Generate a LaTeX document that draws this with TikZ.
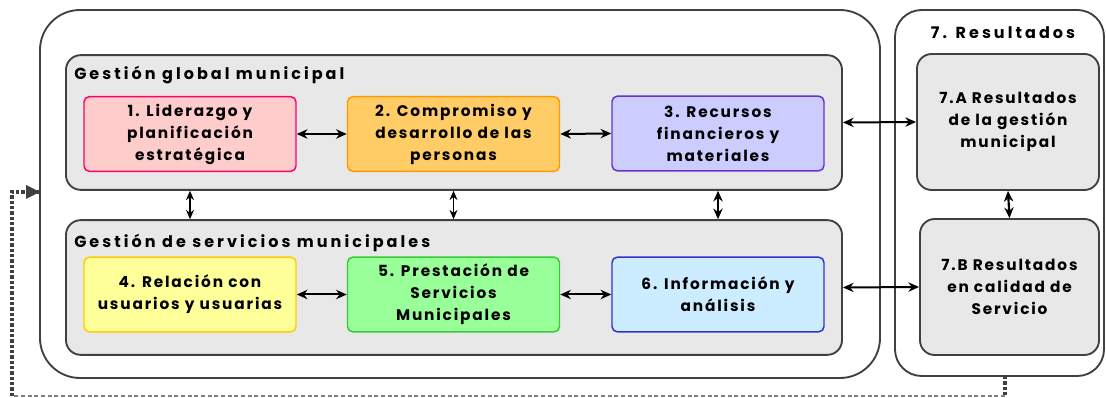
\documentclass[tikz,border=0pt]{standalone}
\usepackage{fontspec}
\setmainfont{Poppins}[LetterSpace=12]
\newfontfamily\hdrfont{Poppins}[LetterSpace=19]
\usetikzlibrary{arrows.meta}
\definecolor{pinkF}{HTML}{FFCCCC}\definecolor{pinkD}{HTML}{FF0066}
\definecolor{oraF}{HTML}{FFCC66}\definecolor{oraD}{HTML}{FF9900}
\definecolor{lavF}{HTML}{CCCCFF}\definecolor{lavD}{HTML}{6633CC}
\definecolor{yelF}{HTML}{FFFF99}\definecolor{yelD}{HTML}{FFCC00}
\definecolor{grnF}{HTML}{99FF99}\definecolor{grnD}{HTML}{33CC33}
\definecolor{bluF}{HTML}{CCECFF}\definecolor{bluD}{HTML}{3333CC}
\definecolor{grayF}{HTML}{E8E8E8}\definecolor{frameD}{HTML}{404040}
\begin{document}
\begin{tikzpicture}[x=0.75pt,y=-0.75pt,
  frame/.style={draw=frameD, line width=1.4pt, inner sep=0pt},
  gbox/.style={draw=frameD, fill=grayF, line width=1.4pt, rounded corners=11pt, minimum width=582pt, minimum height=101pt, inner sep=0pt},
  cbox/.style={line width=1.1pt, rounded corners=4pt, align=center, font=\bfseries\fontsize{11.5}{16.5}\selectfont, minimum width=159pt, minimum height=56pt, inner sep=0pt},
  rbox/.style={draw=frameD, fill=grayF, line width=1.4pt, rounded corners=11pt, align=center, font=\bfseries\fontsize{11.5}{16.5}\selectfont, inner sep=0pt},
  lbl/.style={font=\hdrfont\bfseries\fontsize{12}{14}\selectfont, inner sep=0pt},
  harr/.style={line width=1.5pt, {Stealth[length=8pt,width=7pt]}-{Stealth[length=8pt,width=7pt]}},
  varr/.style={line width=0.9pt, {Stealth[length=7pt,width=6pt]}-{Stealth[length=7pt,width=6pt]}},
  varrb/.style={line width=1.6pt, {Stealth[length=8pt,width=7pt]}-{Stealth[length=8pt,width=7pt]}},
  fbthick/.style={draw=frameD, line width=2.4pt, dash pattern=on 2.5pt off 1.5pt},
  fbthin/.style={draw=gray, line width=0.9pt, dash pattern=on 3pt off 2pt}]
\useasboundingbox (0,0) rectangle (1106,398);
% outer frames
\node[frame, rounded corners=30pt, minimum width=630pt, minimum height=276pt] (outer) at (460,194) {};
\node[frame, rounded corners=20pt, minimum width=156.75pt, minimum height=274.5pt] (rframe) at (999.5,193) {};
% gray groups
\node[gbox] (gtop) at (454,122.5) {};
\node[gbox] (gbot) at (454,287.5) {};
\node[lbl, anchor=west] (ltop) at (74,75) {Gestión global municipal};
\node[lbl, anchor=west] (lbot) at (74,243) {Gestión de servicios municipales};
\node[lbl] (lres) at (1003,33) {7. Resultados};
% criteria boxes
\node[cbox, draw=pinkD, fill=pinkF] (b1) at (190,134) {1. Liderazgo y\\planificación\\estratégica};
\node[cbox, draw=oraD, fill=oraF] (b2) at (453.5,134) {2. Compromiso y\\desarrollo de las\\personas};
\node[cbox, draw=lavD, fill=lavF] (b3) at (718,133.5) {3. Recursos\\financieros y\\materiales};
\node[cbox, draw=yelD, fill=yelF] (b4) at (190,294.5) {4. Relación con\\usuarios y usuarias};
\node[cbox, draw=grnD, fill=grnF] (b5) at (453.5,294.5) {5. Prestación de\\Servicios\\Municipales};
\node[cbox, draw=bluD, fill=bluF] (b6) at (718,294.5) {6. Información y\\análisis};
\node[rbox, minimum width=136.5pt, minimum height=102pt] (r7a) at (1008,122) {7.A Resultados\\de la gestión\\municipal};
\node[rbox, minimum width=134.25pt, minimum height=102pt] (r7b) at (1009.5,287) {7.B Resultados\\en calidad de\\Servicio};
% horizontal connectors
\draw[harr] (b1.east) -- (b2.west);
\draw[harr] (b2.east) -- (b3.west);
\draw[harr] (gtop.east) -- (r7a.west);
\draw[harr] (b4.east) -- (b5.west);
\draw[harr] (b5.east) -- (b6.west);
\draw[harr] (gbot.east) -- (r7b.west);
% vertical connectors
\draw[varr] (gtop.south -| b1.south) -- (gbot.north -| b1.north);
\draw[varr] (gtop.south -| b2.south) -- (gbot.north -| b2.north);
\draw[varrb] (gtop.south -| b3.south) -- (gbot.north -| b3.north);
\draw[varrb] (r7a.south) -- (r7b.north);
% feedback loop
\coordinate (fa) at (1005,376);
\coordinate (fb) at (1005,396);
\coordinate (fc) at (12,396);
\coordinate (fd) at (12,192);
\coordinate (fe) at (40,192);
\draw[fbthick] (fa) -- (fb);
\draw[fbthin] (fb) -- (fc);
\draw[fbthick] (fc) -- (fd) -- (fe);
\draw[draw=none, fill=frameD] (fe) -- ++(-14,-7) -- ++(0,14) -- cycle;
\end{tikzpicture}
\end{document}
